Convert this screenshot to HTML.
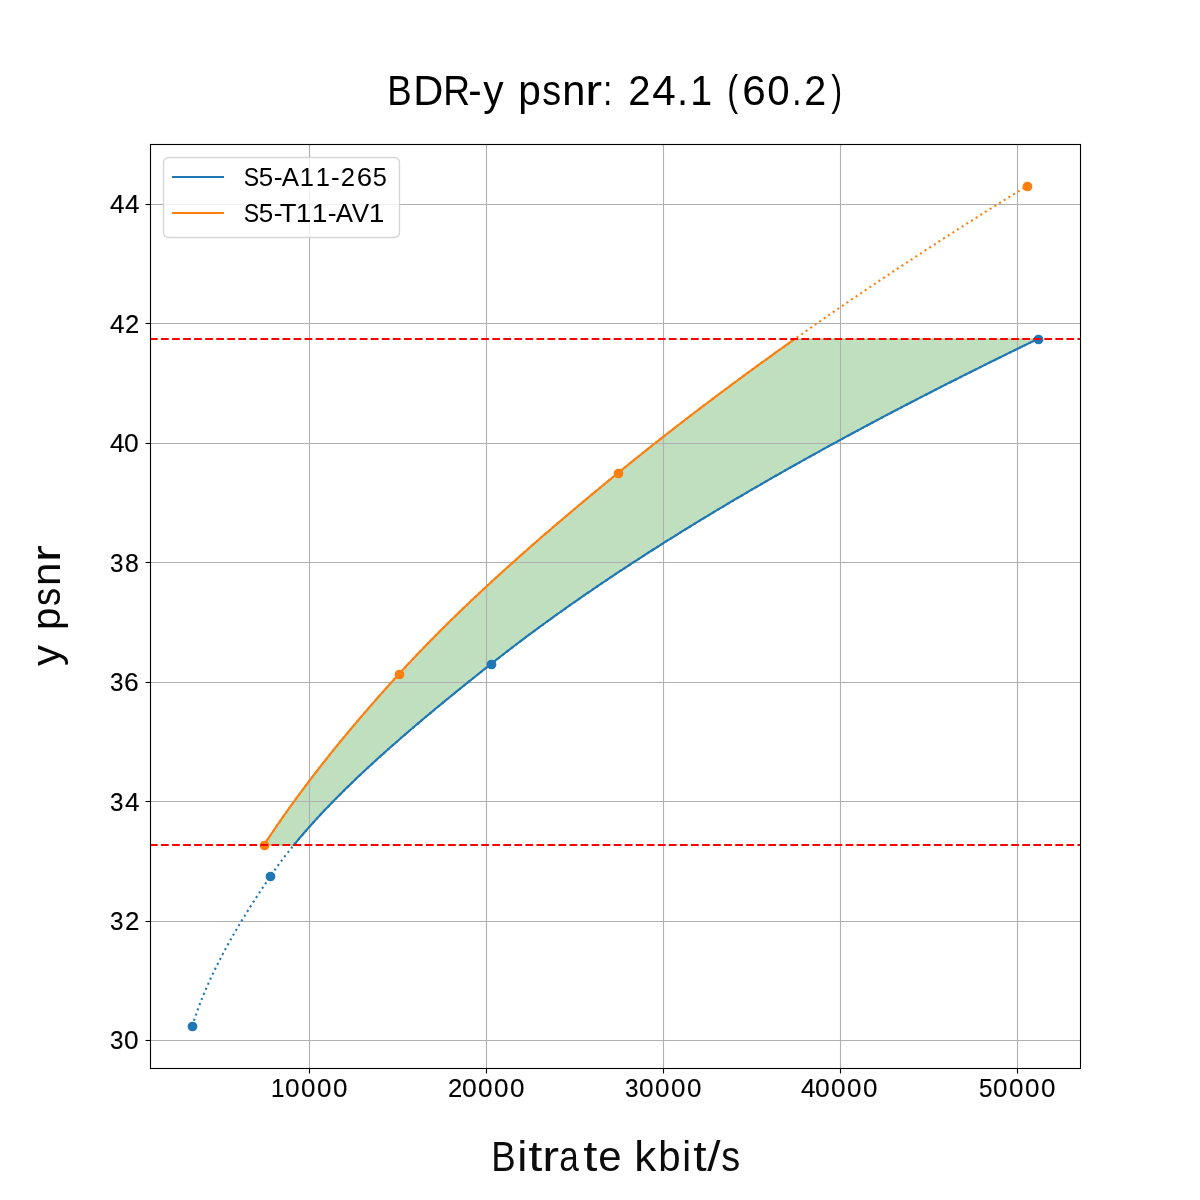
<!DOCTYPE html>
<html lang="en"><head><meta charset="utf-8"><title>BDR-y psnr: 24.1 (60.2)</title>
<style>
html,body{margin:0;padding:0;background:#ffffff;}
body{width:1200px;height:1200px;position:relative;overflow:hidden;font-family:"Liberation Sans",sans-serif;color:#000;}
svg{position:absolute;left:0;top:0;display:block;}
.t{will-change:transform;position:absolute;left:0;top:0;white-space:pre;line-height:1;transform-origin:0 0;font-family:"Liberation Sans",sans-serif;color:#000;}
.g{display:inline-block;transform-origin:0 0;}
</style></head>
<body>
<svg width="1200" height="1200" viewBox="0 0 1200 1200">
<rect x="0" y="0" width="1200" height="1200" fill="#ffffff"/>
<defs><clipPath id="ax"><rect x="150" y="144" width="930" height="924"/></clipPath></defs>
<g clip-path="url(#ax)">
<polygon points="293.89,845.00 295.49,843.05 297.11,841.09 298.75,839.14 300.40,837.19 302.07,835.23 303.75,833.28 305.44,831.32 307.15,829.37 308.88,827.42 310.62,825.46 312.37,823.51 314.14,821.56 315.92,819.60 317.71,817.65 319.52,815.69 321.34,813.74 323.18,811.79 325.03,809.83 326.89,807.88 328.77,805.93 330.65,803.97 332.55,802.02 334.47,800.07 336.39,798.11 338.33,796.16 340.28,794.20 342.24,792.25 344.22,790.30 346.20,788.34 348.20,786.39 350.21,784.44 352.23,782.48 354.26,780.53 356.31,778.58 358.36,776.62 360.43,774.67 362.50,772.71 364.59,770.76 366.69,768.81 368.79,766.85 370.91,764.90 373.04,762.95 375.18,760.99 377.33,759.04 379.48,757.08 381.65,755.13 383.83,753.18 386.01,751.22 388.21,749.27 390.41,747.32 392.62,745.36 394.85,743.41 397.08,741.46 399.31,739.50 401.56,737.55 403.82,735.59 406.08,733.64 408.35,731.69 410.63,729.73 412.92,727.78 415.21,725.83 417.52,723.87 419.83,721.92 422.14,719.97 424.47,718.01 426.80,716.06 429.14,714.10 431.48,712.15 433.83,710.20 436.19,708.24 438.55,706.29 440.92,704.34 443.30,702.38 445.68,700.43 448.07,698.47 450.46,696.52 452.86,694.57 455.26,692.61 457.67,690.66 460.09,688.71 462.50,686.75 464.93,684.80 467.36,682.85 469.79,680.89 472.23,678.94 474.67,676.98 477.12,675.03 479.57,673.08 482.02,671.12 484.48,669.17 486.94,667.22 489.41,665.26 491.87,663.31 494.35,661.36 496.84,659.40 499.34,657.45 501.85,655.49 504.37,653.54 506.90,651.59 509.44,649.63 511.99,647.68 514.55,645.73 517.13,643.77 519.71,641.82 522.30,639.86 524.90,637.91 527.52,635.96 530.14,634.00 532.78,632.05 535.42,630.10 538.08,628.14 540.74,626.19 543.42,624.24 546.10,622.28 548.80,620.33 551.50,618.37 554.22,616.42 556.95,614.47 559.68,612.51 562.43,610.56 565.19,608.61 567.96,606.65 570.73,604.70 573.52,602.75 576.32,600.79 579.13,598.84 581.94,596.88 584.77,594.93 587.61,592.98 590.46,591.02 593.32,589.07 596.19,587.12 599.06,585.16 601.95,583.21 604.85,581.25 607.76,579.30 610.68,577.35 613.61,575.39 616.55,573.44 619.49,571.49 622.45,569.53 625.42,567.58 628.40,565.63 631.39,563.67 634.38,561.72 637.39,559.76 640.41,557.81 643.44,555.86 646.47,553.90 649.52,551.95 652.58,550.00 655.64,548.04 658.72,546.09 661.81,544.14 664.90,542.18 668.01,540.23 671.12,538.27 674.25,536.32 677.38,534.37 680.53,532.41 683.68,530.46 686.85,528.51 690.02,526.55 693.20,524.60 696.39,522.64 699.60,520.69 702.81,518.74 706.03,516.78 709.26,514.83 712.50,512.88 715.75,510.92 719.01,508.97 722.28,507.02 725.56,505.06 728.85,503.11 732.15,501.15 735.45,499.20 738.77,497.25 742.10,495.29 745.43,493.34 748.78,491.39 752.13,489.43 755.50,487.48 758.87,485.53 762.25,483.57 765.64,481.62 769.05,479.66 772.46,477.71 775.88,475.76 779.31,473.80 782.75,471.85 786.19,469.90 789.65,467.94 793.12,465.99 796.59,464.03 800.08,462.08 803.57,460.13 807.08,458.17 810.59,456.22 814.11,454.27 817.64,452.31 821.18,450.36 824.73,448.41 828.29,446.45 831.86,444.50 835.44,442.54 839.02,440.59 842.62,438.64 846.22,436.68 849.83,434.73 853.46,432.78 857.09,430.82 860.73,428.87 864.38,426.92 868.03,424.96 871.70,423.01 875.38,421.05 879.06,419.10 882.76,417.15 886.46,415.19 890.17,413.24 893.89,411.29 897.62,409.33 901.36,407.38 905.11,405.42 908.87,403.47 912.63,401.52 916.41,399.56 920.19,397.61 923.98,395.66 927.78,393.70 931.59,391.75 935.41,389.80 939.24,387.84 943.07,385.89 946.92,383.93 950.77,381.98 954.63,380.03 958.50,378.07 962.38,376.12 966.27,374.17 970.17,372.21 974.07,370.26 977.99,368.31 981.91,366.35 985.84,364.40 989.78,362.44 993.73,360.49 997.69,358.54 1001.65,356.58 1005.63,354.63 1009.61,352.68 1013.60,350.72 1017.60,348.77 1021.61,346.81 1025.63,344.86 1029.65,342.91 1033.69,340.95 1037.73,339.00 794.77,339.00 792.01,340.95 789.26,342.91 786.52,344.86 783.78,346.81 781.04,348.77 778.31,350.72 775.58,352.68 772.86,354.63 770.15,356.58 767.44,358.54 764.74,360.49 762.04,362.44 759.34,364.40 756.66,366.35 753.97,368.31 751.30,370.26 748.62,372.21 745.96,374.17 743.29,376.12 740.64,378.07 737.99,380.03 735.34,381.98 732.70,383.93 730.07,385.89 727.44,387.84 724.81,389.80 722.19,391.75 719.58,393.70 716.97,395.66 714.37,397.61 711.77,399.56 709.18,401.52 706.59,403.47 704.01,405.42 701.43,407.38 698.86,409.33 696.30,411.29 693.74,413.24 691.18,415.19 688.63,417.15 686.09,419.10 683.55,421.05 681.01,423.01 678.49,424.96 675.96,426.92 673.44,428.87 670.93,430.82 668.43,432.78 665.92,434.73 663.43,436.68 660.94,438.64 658.45,440.59 655.97,442.54 653.50,444.50 651.03,446.45 648.56,448.41 646.10,450.36 643.65,452.31 641.20,454.27 638.76,456.22 636.32,458.17 633.89,460.13 631.46,462.08 629.04,464.03 626.63,465.99 624.22,467.94 621.81,469.90 619.41,471.85 617.02,473.80 614.63,475.76 612.24,477.71 609.86,479.66 607.48,481.62 605.10,483.57 602.73,485.53 600.36,487.48 598.00,489.43 595.64,491.39 593.28,493.34 590.93,495.29 588.58,497.25 586.23,499.20 583.89,501.15 581.56,503.11 579.23,505.06 576.90,507.02 574.58,508.97 572.26,510.92 569.95,512.88 567.64,514.83 565.33,516.78 563.03,518.74 560.74,520.69 558.44,522.64 556.16,524.60 553.88,526.55 551.60,528.51 549.33,530.46 547.06,532.41 544.80,534.37 542.54,536.32 540.29,538.27 538.05,540.23 535.81,542.18 533.57,544.14 531.34,546.09 529.11,548.04 526.89,550.00 524.68,551.95 522.47,553.90 520.26,555.86 518.07,557.81 515.87,559.76 513.69,561.72 511.51,563.67 509.33,565.63 507.16,567.58 505.00,569.53 502.84,571.49 500.69,573.44 498.54,575.39 496.40,577.35 494.26,579.30 492.14,581.25 490.01,583.21 487.90,585.16 485.79,587.12 483.68,589.07 481.59,591.02 479.50,592.98 477.41,594.93 475.33,596.88 473.26,598.84 471.20,600.79 469.14,602.75 467.09,604.70 465.04,606.65 463.01,608.61 460.98,610.56 458.95,612.51 456.93,614.47 454.92,616.42 452.92,618.37 450.92,620.33 448.93,622.28 446.95,624.24 444.98,626.19 443.01,628.14 441.05,630.10 439.09,632.05 437.15,634.00 435.21,635.96 433.28,637.91 431.35,639.86 429.44,641.82 427.53,643.77 425.63,645.73 423.74,647.68 421.85,649.63 419.97,651.59 418.10,653.54 416.24,655.49 414.39,657.45 412.54,659.40 410.70,661.36 408.87,663.31 407.05,665.26 405.24,667.22 403.43,669.17 401.63,671.12 399.84,673.08 398.06,675.03 396.29,676.98 394.51,678.94 392.75,680.89 390.99,682.85 389.23,684.80 387.48,686.75 385.73,688.71 383.99,690.66 382.25,692.61 380.52,694.57 378.79,696.52 377.07,698.47 375.35,700.43 373.64,702.38 371.93,704.34 370.23,706.29 368.54,708.24 366.84,710.20 365.16,712.15 363.48,714.10 361.80,716.06 360.13,718.01 358.46,719.97 356.80,721.92 355.15,723.87 353.50,725.83 351.86,727.78 350.22,729.73 348.59,731.69 346.96,733.64 345.34,735.59 343.72,737.55 342.11,739.50 340.50,741.46 338.90,743.41 337.31,745.36 335.72,747.32 334.14,749.27 332.56,751.22 330.99,753.18 329.42,755.13 327.86,757.08 326.31,759.04 324.76,760.99 323.22,762.95 321.68,764.90 320.15,766.85 318.62,768.81 317.11,770.76 315.59,772.71 314.08,774.67 312.58,776.62 311.09,778.58 309.60,780.53 308.12,782.48 306.64,784.44 305.17,786.39 303.70,788.34 302.24,790.30 300.79,792.25 299.35,794.20 297.91,796.16 296.47,798.11 295.04,800.07 293.62,802.02 292.21,803.97 290.80,805.93 289.40,807.88 288.00,809.83 286.61,811.79 285.23,813.74 283.85,815.69 282.48,817.65 281.12,819.60 279.76,821.56 278.41,823.51 277.07,825.46 275.73,827.42 274.40,829.37 273.08,831.32 271.76,833.28 270.45,835.23 269.15,837.19 267.85,839.14 266.56,841.09 265.28,843.05 264.00,845.00" fill="#008000" fill-opacity="0.25" stroke="#008000" stroke-opacity="0.25" stroke-width="1.389" stroke-linejoin="miter"/>
<line x1="309.5" y1="144" x2="309.5" y2="1068" stroke="#b0b0b0" stroke-width="1.111"/>
<line x1="486.5" y1="144" x2="486.5" y2="1068" stroke="#b0b0b0" stroke-width="1.111"/>
<line x1="663.5" y1="144" x2="663.5" y2="1068" stroke="#b0b0b0" stroke-width="1.111"/>
<line x1="840.5" y1="144" x2="840.5" y2="1068" stroke="#b0b0b0" stroke-width="1.111"/>
<line x1="1017.5" y1="144" x2="1017.5" y2="1068" stroke="#b0b0b0" stroke-width="1.111"/>
<line x1="150" y1="204.5" x2="1080" y2="204.5" stroke="#b0b0b0" stroke-width="1.111"/>
<line x1="150" y1="323.5" x2="1080" y2="323.5" stroke="#b0b0b0" stroke-width="1.111"/>
<line x1="150" y1="443.5" x2="1080" y2="443.5" stroke="#b0b0b0" stroke-width="1.111"/>
<line x1="150" y1="562.5" x2="1080" y2="562.5" stroke="#b0b0b0" stroke-width="1.111"/>
<line x1="150" y1="682.5" x2="1080" y2="682.5" stroke="#b0b0b0" stroke-width="1.111"/>
<line x1="150" y1="801.5" x2="1080" y2="801.5" stroke="#b0b0b0" stroke-width="1.111"/>
<line x1="150" y1="921.5" x2="1080" y2="921.5" stroke="#b0b0b0" stroke-width="1.111"/>
<line x1="150" y1="1040.5" x2="1080" y2="1040.5" stroke="#b0b0b0" stroke-width="1.111"/>
<polyline points="192.27,1026.00 193.10,1023.35 193.96,1020.69 194.83,1018.04 195.74,1015.39 196.66,1012.74 197.61,1010.08 198.59,1007.43 199.59,1004.78 200.61,1002.13 201.65,999.47 202.72,996.82 203.80,994.17 204.91,991.52 206.05,988.86 207.20,986.21 208.37,983.56 209.57,980.91 210.78,978.25 212.02,975.60 213.28,972.95 214.55,970.30 215.85,967.64 217.16,964.99 218.50,962.34 219.85,959.69 221.22,957.03 222.61,954.38 224.02,951.73 225.44,949.08 226.88,946.42 228.34,943.77 229.82,941.12 231.31,938.47 232.82,935.81 234.34,933.16 235.88,930.51 237.44,927.86 239.01,925.20 240.60,922.55 242.20,919.90 243.81,917.25 245.44,914.59 247.08,911.94 248.74,909.29 250.41,906.64 252.09,903.98 253.79,901.33 255.50,898.68 257.22,896.03 258.95,893.37 260.69,890.72 262.45,888.07 264.22,885.42 265.99,882.76 267.78,880.11 269.58,877.46 271.39,874.81 273.24,872.15 275.11,869.50 277.02,866.85 278.96,864.20 280.93,861.54 282.93,858.89 284.96,856.24 287.02,853.59 289.11,850.93 291.22,848.28 293.37,845.63 295.55,842.98 297.75,840.32 299.99,837.67 302.25,835.02 304.54,832.37 306.85,829.71 309.19,827.06 311.56,824.41 313.95,821.76 316.37,819.10 318.82,816.45 321.29,813.80 323.78,811.15 326.30,808.49 328.85,805.84 331.41,803.19 334.00,800.54 336.62,797.88 339.25,795.23 341.91,792.58 344.59,789.93 347.30,787.27 350.02,784.62 352.77,781.97 355.53,779.32 358.32,776.66 361.12,774.01 363.95,771.36 366.80,768.71 369.66,766.05 372.54,763.40 375.45,760.75 378.36,758.10 381.30,755.44 384.26,752.79 387.23,750.14 390.22,747.49 393.22,744.83 396.25,742.18 399.28,739.53 402.34,736.88 405.40,734.22 408.49,731.57 411.59,728.92 414.70,726.27 417.82,723.61 420.96,720.96 424.11,718.31 427.28,715.66 430.46,713.00 433.64,710.35 436.85,707.70 440.06,705.05 443.28,702.39 446.52,699.74 449.76,697.09 453.02,694.44 456.28,691.78 459.56,689.13 462.84,686.48 466.14,683.83 469.44,681.17 472.75,678.52 476.07,675.87 479.39,673.22 482.73,670.56 486.06,667.91 489.41,665.26 492.76,662.61 496.14,659.95 499.53,657.30 502.94,654.65 506.37,652.00 509.82,649.34 513.29,646.69 516.77,644.04 520.28,641.39 523.81,638.73 527.35,636.08 530.92,633.43 534.50,630.78 538.10,628.12 541.72,625.47 545.36,622.82 549.02,620.17 552.70,617.51 556.40,614.86 560.11,612.21 563.85,609.56 567.60,606.90 571.37,604.25 575.16,601.60 578.97,598.95 582.80,596.29 586.65,593.64 590.51,590.99 594.39,588.34 598.30,585.68 602.22,583.03 606.16,580.38 610.11,577.73 614.09,575.07 618.08,572.42 622.09,569.77 626.12,567.12 630.17,564.46 634.24,561.81 638.33,559.16 642.43,556.51 646.55,553.85 650.69,551.20 654.85,548.55 659.02,545.90 663.22,543.24 667.43,540.59 671.66,537.94 675.91,535.29 680.17,532.63 684.46,529.98 688.76,527.33 693.08,524.68 697.41,522.02 701.77,519.37 706.14,516.72 710.53,514.07 714.94,511.41 719.36,508.76 723.80,506.11 728.26,503.46 732.74,500.80 737.24,498.15 741.75,495.50 746.28,492.85 750.83,490.19 755.39,487.54 759.97,484.89 764.57,482.24 769.19,479.58 773.82,476.93 778.47,474.28 783.14,471.63 787.83,468.97 792.53,466.32 797.25,463.67 801.98,461.02 806.74,458.36 811.51,455.71 816.29,453.06 821.10,450.41 825.92,447.75 830.76,445.10 835.61,442.45 840.48,439.80 845.37,437.14 850.28,434.49 855.20,431.84 860.14,429.19 865.09,426.53 870.06,423.88 875.05,421.23 880.06,418.58 885.08,415.92 890.11,413.27 895.17,410.62 900.24,407.97 905.33,405.31 910.43,402.66 915.55,400.01 920.68,397.36 925.84,394.70 931.00,392.05 936.19,389.40 941.39,386.75 946.61,384.09 951.84,381.44 957.09,378.79 962.35,376.14 967.63,373.48 972.93,370.83 978.24,368.18 983.57,365.53 988.92,362.87 994.28,360.22 999.65,357.57 1005.05,354.92 1010.45,352.26 1015.88,349.61 1021.32,346.96 1026.77,344.31 1032.24,341.65 1037.73,339.00" fill="none" stroke="#1f77b4" stroke-width="2.083" stroke-dasharray="2.083 3.438" stroke-linejoin="round"/>
<polyline points="264.00,845.00 265.67,842.46 267.34,839.91 269.03,837.37 270.73,834.82 272.44,832.28 274.16,829.73 275.89,827.19 277.63,824.64 279.39,822.10 281.15,819.56 282.93,817.01 284.72,814.47 286.52,811.92 288.33,809.38 290.15,806.83 291.98,804.29 293.82,801.75 295.68,799.20 297.54,796.66 299.41,794.11 301.30,791.57 303.19,789.02 305.10,786.48 307.02,783.93 308.94,781.39 310.88,778.85 312.83,776.30 314.79,773.76 316.75,771.21 318.73,768.67 320.72,766.12 322.72,763.58 324.73,761.03 326.74,758.49 328.77,755.95 330.81,753.40 332.86,750.86 334.91,748.31 336.98,745.77 339.05,743.22 341.14,740.68 343.24,738.14 345.34,735.59 347.45,733.05 349.58,730.50 351.71,727.96 353.85,725.41 356.00,722.87 358.16,720.32 360.33,717.78 362.51,715.24 364.69,712.69 366.89,710.15 369.09,707.60 371.30,705.06 373.53,702.51 375.76,699.97 377.99,697.42 380.24,694.88 382.50,692.34 384.76,689.79 387.04,687.25 389.32,684.70 391.61,682.16 393.90,679.61 396.21,677.07 398.52,674.53 400.85,671.98 403.18,669.44 405.54,666.89 407.90,664.35 410.28,661.80 412.67,659.26 415.08,656.71 417.50,654.17 419.94,651.63 422.38,649.08 424.84,646.54 427.32,643.99 429.80,641.45 432.30,638.90 434.81,636.36 437.34,633.81 439.87,631.27 442.42,628.73 444.98,626.18 447.56,623.64 450.14,621.09 452.74,618.55 455.35,616.00 457.97,613.46 460.61,610.92 463.25,608.37 465.91,605.83 468.58,603.28 471.26,600.74 473.95,598.19 476.65,595.65 479.36,593.10 482.08,590.56 484.82,588.02 487.56,585.47 490.32,582.93 493.09,580.38 495.86,577.84 498.65,575.29 501.45,572.75 504.25,570.20 507.07,567.66 509.90,565.12 512.73,562.57 515.58,560.03 518.44,557.48 521.30,554.94 524.18,552.39 527.06,549.85 529.95,547.31 532.85,544.76 535.77,542.22 538.69,539.67 541.61,537.13 544.55,534.58 547.50,532.04 550.45,529.49 553.41,526.95 556.38,524.41 559.36,521.86 562.35,519.32 565.35,516.77 568.35,514.23 571.36,511.68 574.38,509.14 577.40,506.59 580.43,504.05 583.47,501.51 586.52,498.96 589.58,496.42 592.64,493.87 595.70,491.33 598.78,488.78 601.86,486.24 604.95,483.69 608.04,481.15 611.15,478.61 614.25,476.06 617.37,473.52 620.49,470.97 623.62,468.43 626.75,465.88 629.90,463.34 633.06,460.80 636.23,458.25 639.40,455.71 642.58,453.16 645.78,450.62 648.98,448.07 652.19,445.53 655.41,442.98 658.64,440.44 661.88,437.90 665.13,435.35 668.39,432.81 671.65,430.26 674.93,427.72 678.21,425.17 681.50,422.63 684.81,420.08 688.12,417.54 691.44,415.00 694.77,412.45 698.11,409.91 701.45,407.36 704.81,404.82 708.18,402.27 711.55,399.73 714.93,397.19 718.33,394.64 721.73,392.10 725.14,389.55 728.56,387.01 731.99,384.46 735.43,381.92 738.87,379.37 742.33,376.83 745.79,374.29 749.27,371.74 752.75,369.20 756.24,366.65 759.74,364.11 763.25,361.56 766.77,359.02 770.30,356.47 773.84,353.93 777.38,351.39 780.94,348.84 784.50,346.30 788.07,343.75 791.66,341.21 795.25,338.66 798.85,336.12 802.45,333.58 806.07,331.03 809.70,328.49 813.33,325.94 816.98,323.40 820.63,320.85 824.29,318.31 827.97,315.76 831.65,313.22 835.34,310.68 839.03,308.13 842.74,305.59 846.46,303.04 850.18,300.50 853.92,297.95 857.66,295.41 861.41,292.86 865.17,290.32 868.94,287.78 872.72,285.23 876.51,282.69 880.30,280.14 884.11,277.60 887.92,275.05 891.74,272.51 895.58,269.97 899.42,267.42 903.27,264.88 907.13,262.33 910.99,259.79 914.87,257.24 918.75,254.70 922.65,252.15 926.55,249.61 930.46,247.07 934.38,244.52 938.31,241.98 942.25,239.43 946.20,236.89 950.15,234.34 954.12,231.80 958.09,229.25 962.08,226.71 966.07,224.17 970.07,221.62 974.08,219.08 978.09,216.53 982.12,213.99 986.16,211.44 990.20,208.90 994.25,206.36 998.32,203.81 1002.39,201.27 1006.47,198.72 1010.56,196.18 1014.65,193.63 1018.76,191.09 1022.87,188.54 1027.00,186.00" fill="none" stroke="#ff7f0e" stroke-width="2.083" stroke-dasharray="2.083 3.438" stroke-linejoin="round"/>
<polyline points="293.89,845.00 295.49,843.05 297.11,841.09 298.75,839.14 300.40,837.19 302.07,835.23 303.75,833.28 305.44,831.32 307.15,829.37 308.88,827.42 310.62,825.46 312.37,823.51 314.14,821.56 315.92,819.60 317.71,817.65 319.52,815.69 321.34,813.74 323.18,811.79 325.03,809.83 326.89,807.88 328.77,805.93 330.65,803.97 332.55,802.02 334.47,800.07 336.39,798.11 338.33,796.16 340.28,794.20 342.24,792.25 344.22,790.30 346.20,788.34 348.20,786.39 350.21,784.44 352.23,782.48 354.26,780.53 356.31,778.58 358.36,776.62 360.43,774.67 362.50,772.71 364.59,770.76 366.69,768.81 368.79,766.85 370.91,764.90 373.04,762.95 375.18,760.99 377.33,759.04 379.48,757.08 381.65,755.13 383.83,753.18 386.01,751.22 388.21,749.27 390.41,747.32 392.62,745.36 394.85,743.41 397.08,741.46 399.31,739.50 401.56,737.55 403.82,735.59 406.08,733.64 408.35,731.69 410.63,729.73 412.92,727.78 415.21,725.83 417.52,723.87 419.83,721.92 422.14,719.97 424.47,718.01 426.80,716.06 429.14,714.10 431.48,712.15 433.83,710.20 436.19,708.24 438.55,706.29 440.92,704.34 443.30,702.38 445.68,700.43 448.07,698.47 450.46,696.52 452.86,694.57 455.26,692.61 457.67,690.66 460.09,688.71 462.50,686.75 464.93,684.80 467.36,682.85 469.79,680.89 472.23,678.94 474.67,676.98 477.12,675.03 479.57,673.08 482.02,671.12 484.48,669.17 486.94,667.22 489.41,665.26 491.87,663.31 494.35,661.36 496.84,659.40 499.34,657.45 501.85,655.49 504.37,653.54 506.90,651.59 509.44,649.63 511.99,647.68 514.55,645.73 517.13,643.77 519.71,641.82 522.30,639.86 524.90,637.91 527.52,635.96 530.14,634.00 532.78,632.05 535.42,630.10 538.08,628.14 540.74,626.19 543.42,624.24 546.10,622.28 548.80,620.33 551.50,618.37 554.22,616.42 556.95,614.47 559.68,612.51 562.43,610.56 565.19,608.61 567.96,606.65 570.73,604.70 573.52,602.75 576.32,600.79 579.13,598.84 581.94,596.88 584.77,594.93 587.61,592.98 590.46,591.02 593.32,589.07 596.19,587.12 599.06,585.16 601.95,583.21 604.85,581.25 607.76,579.30 610.68,577.35 613.61,575.39 616.55,573.44 619.49,571.49 622.45,569.53 625.42,567.58 628.40,565.63 631.39,563.67 634.38,561.72 637.39,559.76 640.41,557.81 643.44,555.86 646.47,553.90 649.52,551.95 652.58,550.00 655.64,548.04 658.72,546.09 661.81,544.14 664.90,542.18 668.01,540.23 671.12,538.27 674.25,536.32 677.38,534.37 680.53,532.41 683.68,530.46 686.85,528.51 690.02,526.55 693.20,524.60 696.39,522.64 699.60,520.69 702.81,518.74 706.03,516.78 709.26,514.83 712.50,512.88 715.75,510.92 719.01,508.97 722.28,507.02 725.56,505.06 728.85,503.11 732.15,501.15 735.45,499.20 738.77,497.25 742.10,495.29 745.43,493.34 748.78,491.39 752.13,489.43 755.50,487.48 758.87,485.53 762.25,483.57 765.64,481.62 769.05,479.66 772.46,477.71 775.88,475.76 779.31,473.80 782.75,471.85 786.19,469.90 789.65,467.94 793.12,465.99 796.59,464.03 800.08,462.08 803.57,460.13 807.08,458.17 810.59,456.22 814.11,454.27 817.64,452.31 821.18,450.36 824.73,448.41 828.29,446.45 831.86,444.50 835.44,442.54 839.02,440.59 842.62,438.64 846.22,436.68 849.83,434.73 853.46,432.78 857.09,430.82 860.73,428.87 864.38,426.92 868.03,424.96 871.70,423.01 875.38,421.05 879.06,419.10 882.76,417.15 886.46,415.19 890.17,413.24 893.89,411.29 897.62,409.33 901.36,407.38 905.11,405.42 908.87,403.47 912.63,401.52 916.41,399.56 920.19,397.61 923.98,395.66 927.78,393.70 931.59,391.75 935.41,389.80 939.24,387.84 943.07,385.89 946.92,383.93 950.77,381.98 954.63,380.03 958.50,378.07 962.38,376.12 966.27,374.17 970.17,372.21 974.07,370.26 977.99,368.31 981.91,366.35 985.84,364.40 989.78,362.44 993.73,360.49 997.69,358.54 1001.65,356.58 1005.63,354.63 1009.61,352.68 1013.60,350.72 1017.60,348.77 1021.61,346.81 1025.63,344.86 1029.65,342.91 1033.69,340.95 1037.73,339.00" fill="none" stroke="#1f77b4" stroke-width="2.083" stroke-linecap="square" stroke-linejoin="round"/>
<polyline points="264.00,845.00 265.28,843.05 266.56,841.09 267.85,839.14 269.15,837.19 270.45,835.23 271.76,833.28 273.08,831.32 274.40,829.37 275.73,827.42 277.07,825.46 278.41,823.51 279.76,821.56 281.12,819.60 282.48,817.65 283.85,815.69 285.23,813.74 286.61,811.79 288.00,809.83 289.40,807.88 290.80,805.93 292.21,803.97 293.62,802.02 295.04,800.07 296.47,798.11 297.91,796.16 299.35,794.20 300.79,792.25 302.24,790.30 303.70,788.34 305.17,786.39 306.64,784.44 308.12,782.48 309.60,780.53 311.09,778.58 312.58,776.62 314.08,774.67 315.59,772.71 317.11,770.76 318.62,768.81 320.15,766.85 321.68,764.90 323.22,762.95 324.76,760.99 326.31,759.04 327.86,757.08 329.42,755.13 330.99,753.18 332.56,751.22 334.14,749.27 335.72,747.32 337.31,745.36 338.90,743.41 340.50,741.46 342.11,739.50 343.72,737.55 345.34,735.59 346.96,733.64 348.59,731.69 350.22,729.73 351.86,727.78 353.50,725.83 355.15,723.87 356.80,721.92 358.46,719.97 360.13,718.01 361.80,716.06 363.48,714.10 365.16,712.15 366.84,710.20 368.54,708.24 370.23,706.29 371.93,704.34 373.64,702.38 375.35,700.43 377.07,698.47 378.79,696.52 380.52,694.57 382.25,692.61 383.99,690.66 385.73,688.71 387.48,686.75 389.23,684.80 390.99,682.85 392.75,680.89 394.51,678.94 396.29,676.98 398.06,675.03 399.84,673.08 401.63,671.12 403.43,669.17 405.24,667.22 407.05,665.26 408.87,663.31 410.70,661.36 412.54,659.40 414.39,657.45 416.24,655.49 418.10,653.54 419.97,651.59 421.85,649.63 423.74,647.68 425.63,645.73 427.53,643.77 429.44,641.82 431.35,639.86 433.28,637.91 435.21,635.96 437.15,634.00 439.09,632.05 441.05,630.10 443.01,628.14 444.98,626.19 446.95,624.24 448.93,622.28 450.92,620.33 452.92,618.37 454.92,616.42 456.93,614.47 458.95,612.51 460.98,610.56 463.01,608.61 465.04,606.65 467.09,604.70 469.14,602.75 471.20,600.79 473.26,598.84 475.33,596.88 477.41,594.93 479.50,592.98 481.59,591.02 483.68,589.07 485.79,587.12 487.90,585.16 490.01,583.21 492.14,581.25 494.26,579.30 496.40,577.35 498.54,575.39 500.69,573.44 502.84,571.49 505.00,569.53 507.16,567.58 509.33,565.63 511.51,563.67 513.69,561.72 515.87,559.76 518.07,557.81 520.26,555.86 522.47,553.90 524.68,551.95 526.89,550.00 529.11,548.04 531.34,546.09 533.57,544.14 535.81,542.18 538.05,540.23 540.29,538.27 542.54,536.32 544.80,534.37 547.06,532.41 549.33,530.46 551.60,528.51 553.88,526.55 556.16,524.60 558.44,522.64 560.74,520.69 563.03,518.74 565.33,516.78 567.64,514.83 569.95,512.88 572.26,510.92 574.58,508.97 576.90,507.02 579.23,505.06 581.56,503.11 583.89,501.15 586.23,499.20 588.58,497.25 590.93,495.29 593.28,493.34 595.64,491.39 598.00,489.43 600.36,487.48 602.73,485.53 605.10,483.57 607.48,481.62 609.86,479.66 612.24,477.71 614.63,475.76 617.02,473.80 619.41,471.85 621.81,469.90 624.22,467.94 626.63,465.99 629.04,464.03 631.46,462.08 633.89,460.13 636.32,458.17 638.76,456.22 641.20,454.27 643.65,452.31 646.10,450.36 648.56,448.41 651.03,446.45 653.50,444.50 655.97,442.54 658.45,440.59 660.94,438.64 663.43,436.68 665.92,434.73 668.43,432.78 670.93,430.82 673.44,428.87 675.96,426.92 678.49,424.96 681.01,423.01 683.55,421.05 686.09,419.10 688.63,417.15 691.18,415.19 693.74,413.24 696.30,411.29 698.86,409.33 701.43,407.38 704.01,405.42 706.59,403.47 709.18,401.52 711.77,399.56 714.37,397.61 716.97,395.66 719.58,393.70 722.19,391.75 724.81,389.80 727.44,387.84 730.07,385.89 732.70,383.93 735.34,381.98 737.99,380.03 740.64,378.07 743.29,376.12 745.96,374.17 748.62,372.21 751.30,370.26 753.97,368.31 756.66,366.35 759.34,364.40 762.04,362.44 764.74,360.49 767.44,358.54 770.15,356.58 772.86,354.63 775.58,352.68 778.31,350.72 781.04,348.77 783.78,346.81 786.52,344.86 789.26,342.91 792.01,340.95 794.77,339.00" fill="none" stroke="#ff7f0e" stroke-width="2.083" stroke-linecap="square" stroke-linejoin="round"/>
<circle cx="192.5" cy="1026.5" r="4.861" fill="#1f77b4"/>
<circle cx="270.5" cy="876.5" r="4.861" fill="#1f77b4"/>
<circle cx="491.5" cy="664.5" r="4.861" fill="#1f77b4"/>
<circle cx="1038.5" cy="339.5" r="4.861" fill="#1f77b4"/>
<circle cx="264.5" cy="845.5" r="4.861" fill="#ff7f0e"/>
<circle cx="399.5" cy="674.5" r="4.861" fill="#ff7f0e"/>
<circle cx="618.5" cy="473.5" r="4.861" fill="#ff7f0e"/>
<circle cx="1027.5" cy="186.5" r="4.861" fill="#ff7f0e"/>
<line x1="150" y1="845" x2="1080" y2="845" stroke="#ff0000" stroke-width="2.083" stroke-dasharray="7.708 3.333"/>
<line x1="150" y1="339" x2="1080" y2="339" stroke="#ff0000" stroke-width="2.083" stroke-dasharray="7.708 3.333"/>
</g>
<line x1="309.5" y1="1068.5" x2="309.5" y2="1073.5" stroke="#000" stroke-width="1.111"/>
<line x1="486.5" y1="1068.5" x2="486.5" y2="1073.5" stroke="#000" stroke-width="1.111"/>
<line x1="663.5" y1="1068.5" x2="663.5" y2="1073.5" stroke="#000" stroke-width="1.111"/>
<line x1="840.5" y1="1068.5" x2="840.5" y2="1073.5" stroke="#000" stroke-width="1.111"/>
<line x1="1017.5" y1="1068.5" x2="1017.5" y2="1073.5" stroke="#000" stroke-width="1.111"/>
<line x1="145.5" y1="204.5" x2="150.5" y2="204.5" stroke="#000" stroke-width="1.111"/>
<line x1="145.5" y1="323.5" x2="150.5" y2="323.5" stroke="#000" stroke-width="1.111"/>
<line x1="145.5" y1="443.5" x2="150.5" y2="443.5" stroke="#000" stroke-width="1.111"/>
<line x1="145.5" y1="562.5" x2="150.5" y2="562.5" stroke="#000" stroke-width="1.111"/>
<line x1="145.5" y1="682.5" x2="150.5" y2="682.5" stroke="#000" stroke-width="1.111"/>
<line x1="145.5" y1="801.5" x2="150.5" y2="801.5" stroke="#000" stroke-width="1.111"/>
<line x1="145.5" y1="921.5" x2="150.5" y2="921.5" stroke="#000" stroke-width="1.111"/>
<line x1="145.5" y1="1040.5" x2="150.5" y2="1040.5" stroke="#000" stroke-width="1.111"/>
<rect x="150.5" y="144.5" width="930" height="924" fill="none" stroke="#000" stroke-width="1.111" stroke-linejoin="miter"/>
<rect x="163.5" y="157.5" width="236" height="80" rx="5" ry="5" fill="#ffffff" fill-opacity="0.8" stroke="#cccccc" stroke-opacity="0.8" stroke-width="1.389"/>
<line x1="172" y1="177" x2="224.04" y2="177" stroke="#1f77b4" stroke-width="2.083"/>
<line x1="172" y1="213" x2="224.04" y2="213" stroke="#ff7f0e" stroke-width="2.083"/>
</svg>
<div class="t" style="font-size:40px;transform:translate(387.130px,68.515px) scale(1,1.07336)"><span class="g" style="width:25.745px;transform:scaleX(0.9148)">B</span><span class="g" style="width:30.339px;transform:scaleX(1.0417)">D</span><span class="g" style="width:24.879px;transform:scaleX(0.9286)">R</span><span class="g" style="width:14.691px;transform:scaleX(1.0027)">-</span><span class="g" style="width:35.185px;transform:scaleX(1.0155)">y</span><span class="g" style="width:0px;transform:scaleX(1)"> </span><span class="g" style="width:24.087px;transform:scaleX(1.0155)">p</span><span class="g" style="width:20.161px;transform:scaleX(0.9444)">s</span><span class="g" style="width:23.406px;transform:scaleX(1.0392)">n</span><span class="g" style="width:17.977px;transform:scaleX(1.2646)">r</span><span class="g" style="width:24.147px;transform:scaleX(0.8)">:</span><span class="g" style="width:0px;transform:scaleX(1)"> </span><span class="g" style="width:24.289px;transform:scaleX(1.0009)">2</span><span class="g" style="width:24.964px;transform:scaleX(1.0545)">4</span><span class="g" style="width:13.05px;transform:scaleX(1.0)">.</span><span class="g" style="width:37.313px;transform:scaleX(0.9832)">1</span><span class="g" style="width:0px;transform:scaleX(1)"> </span><span class="g" style="width:14.41px;transform:scaleX(0.8182)">(</span><span class="g" style="width:25.221px;transform:scaleX(1.0584)">6</span><span class="g" style="width:25.405px;transform:scaleX(1.0055)">0</span><span class="g" style="width:11.627px;transform:scaleX(0.8251)">.</span><span class="g" style="width:26.974px;transform:scaleX(0.9871)">2</span><span class="g" style="width:13.0px;transform:scaleX(0.8182)">)</span></div>
<div class="t" style="color:#0c0c0c;font-size:40px;transform:translate(491.130px,1134.819px) scale(1,1.06441)"><span class="g" style="width:25.836px;transform:scaleX(0.9148)">B</span><span class="g" style="width:11.033px;transform:scaleX(1.1359)">i</span><span class="g" style="width:14.627px;transform:scaleX(1.2727)">t</span><span class="g" style="width:16.838px;transform:scaleX(1.2595)">r</span><span class="g" style="width:23.536px;transform:scaleX(0.878)">a</span><span class="g" style="width:14.966px;transform:scaleX(1.2727)">t</span><span class="g" style="width:36.057px;transform:scaleX(1.0492)">e</span><span class="g" style="width:0px;transform:scaleX(1)"> </span><span class="g" style="width:23.972px;transform:scaleX(1.1018)">k</span><span class="g" style="width:24.098px;transform:scaleX(1.0023)">b</span><span class="g" style="width:10.781px;transform:scaleX(0.9944)">i</span><span class="g" style="width:14.0px;transform:scaleX(1.2046)">t</span><span class="g" style="width:14.181px;transform:scaleX(1.1913)">/</span><span class="g" style="width:21.0px;transform:scaleX(0.9444)">s</span></div>
<div class="t" style="color:#070707;font-size:40px;transform:translate(26.009px,666.000px) rotate(-90deg) scale(1,1.00446)"><span class="g" style="width:35.866px;transform:scaleX(1.05)">y</span><span class="g" style="width:0px;transform:scaleX(1)"> </span><span class="g" style="width:24.227px;transform:scaleX(1.0064)">p</span><span class="g" style="width:19.824px;transform:scaleX(0.9072)">s</span><span class="g" style="width:23.709px;transform:scaleX(1.0541)">n</span><span class="g" style="width:17.0px;transform:scaleX(1.2595)">r</span></div>
<div class="t" style="-webkit-text-stroke:0.16px #000;font-size:26px;transform:translate(270.993px,1075.000px) scale(1,1.00000)"><span class="g" style="width:14.021px;transform:scaleX(0.9291)">1</span><span class="g" style="width:16.007px;transform:scaleX(1.006)">0</span><span class="g" style="width:16.0px;transform:scaleX(0.9985)">0</span><span class="g" style="width:16.0px;transform:scaleX(0.9985)">0</span><span class="g" style="width:17.0px;transform:scaleX(0.9985)">0</span></div>
<div class="t" style="-webkit-text-stroke:0.16px #000;font-size:26px;transform:translate(447.889px,1075.000px) scale(1,1.00000)"><span class="g" style="width:14.115px;transform:scaleX(0.9857)">2</span><span class="g" style="width:16.009px;transform:scaleX(1.0157)">0</span><span class="g" style="width:16.007px;transform:scaleX(1.006)">0</span><span class="g" style="width:16.0px;transform:scaleX(0.9985)">0</span><span class="g" style="width:17.0px;transform:scaleX(0.9985)">0</span></div>
<div class="t" style="-webkit-text-stroke:0.16px #000;font-size:26px;transform:translate(624.954px,1075.000px) scale(1,1.00000)"><span class="g" style="width:14.06px;transform:scaleX(0.9319)">3</span><span class="g" style="width:16.007px;transform:scaleX(1.006)">0</span><span class="g" style="width:16.0px;transform:scaleX(0.9985)">0</span><span class="g" style="width:16.0px;transform:scaleX(0.9985)">0</span><span class="g" style="width:17.0px;transform:scaleX(0.9985)">0</span></div>
<div class="t" style="-webkit-text-stroke:0.16px #000;font-size:26px;transform:translate(801.000px,1075.000px) scale(1,1.00000)"><span class="g" style="width:14.004px;transform:scaleX(1.0)">4</span><span class="g" style="width:16.009px;transform:scaleX(1.0157)">0</span><span class="g" style="width:16.007px;transform:scaleX(1.006)">0</span><span class="g" style="width:16.0px;transform:scaleX(0.9985)">0</span><span class="g" style="width:17.0px;transform:scaleX(0.9985)">0</span></div>
<div class="t" style="-webkit-text-stroke:0.16px #000;font-size:26px;transform:translate(978.950px,1075.000px) scale(1,1.00000)"><span class="g" style="width:14.071px;transform:scaleX(0.9322)">5</span><span class="g" style="width:16.0px;transform:scaleX(0.9985)">0</span><span class="g" style="width:16.0px;transform:scaleX(0.9985)">0</span><span class="g" style="width:16.0px;transform:scaleX(0.9985)">0</span><span class="g" style="width:17.0px;transform:scaleX(0.9985)">0</span></div>
<div class="t" style="-webkit-text-stroke:0.16px #000;font-size:26px;transform:translate(109.954px,1027.000px) scale(1,1.00000)"><span class="g" style="width:14.06px;transform:scaleX(0.9319)">3</span><span class="g" style="width:17.098px;transform:scaleX(1.006)">0</span></div>
<div class="t" style="-webkit-text-stroke:0.16px #000;font-size:26px;transform:translate(109.954px,908.000px) scale(1,1.00000)"><span class="g" style="width:14.8px;transform:scaleX(0.9319)">3</span><span class="g" style="width:16.251px;transform:scaleX(0.9959)">2</span></div>
<div class="t" style="-webkit-text-stroke:0.16px #000;font-size:26px;transform:translate(109.954px,789.000px) scale(1,1.00000)"><span class="g" style="width:15.046px;transform:scaleX(0.9319)">3</span><span class="g" style="width:18.0px;transform:scaleX(1.0)">4</span></div>
<div class="t" style="-webkit-text-stroke:0.16px #000;font-size:26px;transform:translate(109.954px,669.000px) scale(1,1.00000)"><span class="g" style="width:14.03px;transform:scaleX(0.9319)">3</span><span class="g" style="width:17.212px;transform:scaleX(1.0163)">6</span></div>
<div class="t" style="-webkit-text-stroke:0.16px #000;font-size:26px;transform:translate(109.954px,550.000px) scale(1,1.00000)"><span class="g" style="width:14.766px;transform:scaleX(0.9319)">3</span><span class="g" style="width:16.416px;transform:scaleX(0.9551)">8</span></div>
<div class="t" style="-webkit-text-stroke:0.16px #000;font-size:26px;transform:translate(110.000px,430.000px) scale(1,1.00000)"><span class="g" style="width:14.004px;transform:scaleX(1.0)">4</span><span class="g" style="width:17.224px;transform:scaleX(1.0157)">0</span></div>
<div class="t" style="-webkit-text-stroke:0.16px #000;font-size:26px;transform:translate(110.000px,311.000px) scale(1,1.00000)"><span class="g" style="width:14.889px;transform:scaleX(1.0)">4</span><span class="g" style="width:16.125px;transform:scaleX(0.9857)">2</span></div>
<div class="t" style="-webkit-text-stroke:0.16px #000;font-size:26px;transform:translate(110.000px,191.000px) scale(1,1.00000)"><span class="g" style="width:15.0px;transform:scaleX(1.0)">4</span><span class="g" style="width:18.0px;transform:scaleX(1.0)">4</span></div>
<div class="t" style="font-size:26px;transform:translate(243.784px,164.000px) scale(1,1.00000)"><span class="g" style="width:14.97px;transform:scaleX(0.8824)">S</span><span class="g" style="width:15.103px;transform:scaleX(0.9952)">5</span><span class="g" style="width:8.143px;transform:scaleX(1.0179)">-</span><span class="g" style="width:18.052px;transform:scaleX(0.9956)">A</span><span class="g" style="width:16.0px;transform:scaleX(0.9818)">1</span><span class="g" style="width:14.948px;transform:scaleX(0.9818)">1</span><span class="g" style="width:10.013px;transform:scaleX(1.0)">-</span><span class="g" style="width:15.925px;transform:scaleX(0.9871)">2</span><span class="g" style="width:16.088px;transform:scaleX(1.0625)">6</span><span class="g" style="width:16.0px;transform:scaleX(0.9748)">5</span></div>
<div class="t" style="font-size:26px;transform:translate(243.780px,200.000px) scale(1,1.00000)"><span class="g" style="width:14.969px;transform:scaleX(0.8866)">S</span><span class="g" style="width:15.108px;transform:scaleX(1.0003)">5</span><span class="g" style="width:6.143px;transform:scaleX(1.0179)">-</span><span class="g" style="width:15.79px;transform:scaleX(1.0513)">T</span><span class="g" style="width:16.0px;transform:scaleX(1.0823)">1</span><span class="g" style="width:16.067px;transform:scaleX(1.0823)">1</span><span class="g" style="width:8.143px;transform:scaleX(1.0179)">-</span><span class="g" style="width:16.0px;transform:scaleX(0.9943)">A</span><span class="g" style="width:16.79px;transform:scaleX(1.0005)">V</span><span class="g" style="width:16.125px;transform:scaleX(1.0823)">1</span></div>
</body></html>
